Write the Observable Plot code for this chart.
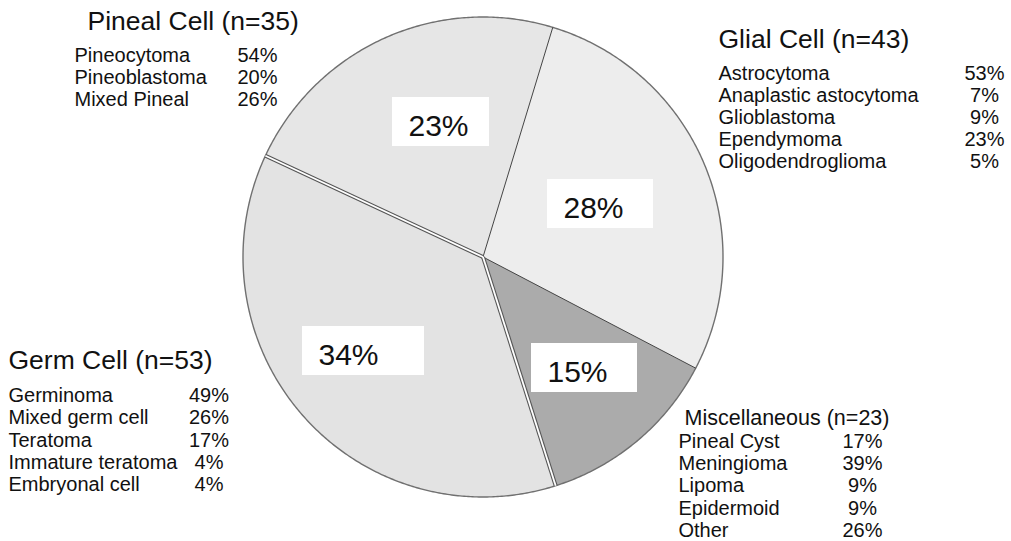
<!DOCTYPE html>
<html><head><meta charset="utf-8">
<script src="https://cdn.jsdelivr.net/npm/d3@7"></script>
<script src="https://cdn.jsdelivr.net/npm/@observablehq/plot@0.6"></script>
<style>html,body{margin:0;padding:0;background:#fff;} #chart svg{display:block}</style>
</head><body><div id="chart"></div>
<script>
// ---- data ----
const groups = ["Glial Cell", "Miscellaneous", "Germ Cell", "Pineal Cell"];
const groupN = [43, 23, 53, 35];
const groupPct = [28, 15, 34, 23];
// slice sizes as drawn in the picture (percent of the circle)
const sliceShare = [27.97, 12.44, 36.83, 22.76];

const pinealTypes = ["Pineocytoma", "Pineoblastoma", "Mixed Pineal"];
const pinealPct = [54, 20, 26];
const glialTypes = ["Astrocytoma", "Anaplastic astocytoma", "Glioblastoma", "Ependymoma", "Oligodendroglioma"];
const glialPct = [53, 7, 9, 23, 5];
const germTypes = ["Germinoma", "Mixed germ cell", "Teratoma", "Immature teratoma", "Embryonal cell"];
const germPct = [49, 26, 17, 4, 4];
const miscTypes = ["Pineal Cyst", "Meningioma", "Lipoma", "Epidermoid", "Other"];
const miscPct = [17, 39, 9, 9, 26];

// ---- layout / style ----
const W = 1011, H = 541;
const pieLayout = {cx: 482.5, cy: 256.5, r: 240, startDeg: 16.9};
const sliceColors = ["#ededed", "#ababab", "#e3e3e3", "#e6e6e6"];
const doubleEdges = [2, 3]; // slice starts drawn with a double line
const labelBoxes = [ // [x1, y1, x2, y2] per slice
  [547, 179, 653, 228],
  [531, 343, 637, 392],
  [302, 326, 424, 375],
  [392, 97, 489, 146]
];
const blocks = [
  {types: pinealTypes, pct: pinealPct, g: 3, tx: 87, ty: 29, tsize: 26.5, ix: 74, iy: 61, step: 22.2, px: 257},
  {types: glialTypes, pct: glialPct, g: 0, tx: 718, ty: 47, tsize: 26.5, ix: 718, iy: 79, step: 22.2, px: 984},
  {types: germTypes, pct: germPct, g: 2, tx: 8, ty: 368.3, tsize: 26.5, ix: 8, iy: 401.7, step: 22.2, px: 208.5},
  {types: miscTypes, pct: miscPct, g: 1, tx: 684, ty: 424.3, tsize: 21.5, ix: 678, iy: 447.3, step: 22.3, px: 862}
];
const FONT = "Liberation Sans, Arial, Helvetica, sans-serif";

// ---- geometry from data ----
const {cx, cy, r} = pieLayout;
const a0 = pieLayout.startDeg * Math.PI / 180;
const arcs = d3.pie().sort(null).value(d => d).startAngle(a0).endAngle(a0 + 2 * Math.PI)(sliceShare);
const pt = a => ({x: cx + r * Math.sin(a), y: cy - r * Math.cos(a)});
const slicePolys = arcs.map((a, i) => {
  const pts = [{x: cx, y: cy}];
  const n = Math.max(2, Math.ceil((a.endAngle - a.startAngle) / (Math.PI / 360)));
  for (let k = 0; k <= n; k++) pts.push(pt(a.startAngle + (a.endAngle - a.startAngle) * k / n));
  pts.push({x: cx, y: cy});
  return pts;
});
const circle = d3.range(0, 721).map(k => pt(k * Math.PI / 360));
const edges = arcs.map((a, i) => ({i, ...pt(a.startAngle)}));

const textStart = [], textMid = [];
blocks.forEach(b => {
  textStart.push({t: `${groups[b.g]} (n=${groupN[b.g]})`, x: b.tx, y: b.ty, s: b.tsize});
  b.types.forEach((t, j) => {
    textStart.push({t, x: b.ix, y: b.iy + j * b.step, s: 20});
    textMid.push({t: b.pct[j] + "%", x: b.px, y: b.iy + j * b.step, s: 20});
  });
});
const pctLabels = groupPct.map((p, i) => ({t: p + "%", x: labelBoxes[i][0] + 16, y: labelBoxes[i][3] - 11,
  x1: labelBoxes[i][0], y1: labelBoxes[i][1], x2: labelBoxes[i][2], y2: labelBoxes[i][3]}));

const chart = Plot.plot({
  width: W, height: H,
  margin: 0,
  x: {domain: [0, W], range: [0, W], axis: null},
  y: {domain: [0, H], range: [0, H], axis: null},
  style: {fontFamily: FONT, background: "#fff"},
  marks: [
    ...slicePolys.map((p, i) => Plot.line(p, {x: "x", y: "y", fill: sliceColors[i], stroke: "none"})),
    Plot.line(circle, {x: "x", y: "y", stroke: "#707070", strokeWidth: 1.4}),
    Plot.link(edges.filter(e => !doubleEdges.includes(e.i)), {x1: () => cx, y1: () => cy, x2: "x", y2: "y", stroke: "#444", strokeWidth: 1}),
    Plot.link(edges.filter(e => doubleEdges.includes(e.i)), {x1: () => cx, y1: () => cy, x2: "x", y2: "y", stroke: "#555", strokeWidth: 4}),
    Plot.link(edges.filter(e => doubleEdges.includes(e.i)), {x1: () => cx, y1: () => cy, x2: "x", y2: "y", stroke: "#fff", strokeWidth: 1.8}),
    Plot.rect(pctLabels, {x1: "x1", x2: "x2", y1: "y1", y2: "y2", fill: "#fff"}),
    Plot.text(pctLabels, {x: "x", y: "y", text: "t", fontSize: 30, textAnchor: "start", lineAnchor: "bottom", fill: "#111", fontFamily: FONT}),
    Plot.text(textStart, {x: "x", y: "y", text: "t", fontSize: "s", textAnchor: "start", lineAnchor: "bottom", fill: "#111", fontFamily: FONT}),
    Plot.text(textMid, {x: "x", y: "y", text: "t", fontSize: "s", textAnchor: "middle", lineAnchor: "bottom", fill: "#111", fontFamily: FONT})
  ]
});
document.getElementById("chart").append(chart);
</script>
</body></html>
